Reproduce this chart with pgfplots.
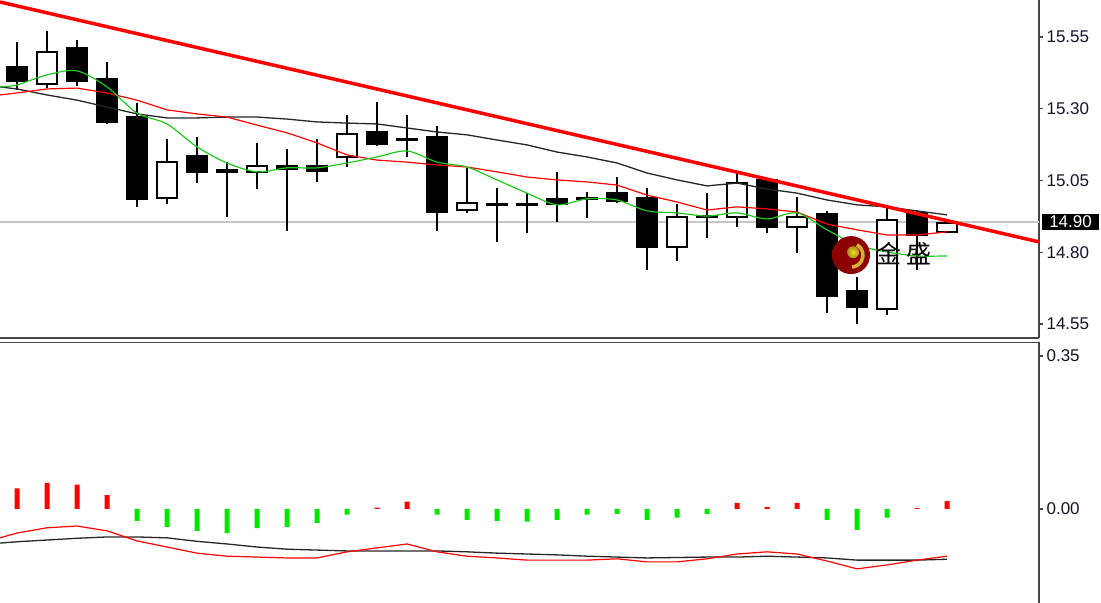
\documentclass[border=0pt]{standalone}
\usepackage{pgfplots}
\pgfplotsset{compat=1.18}
\usepackage{fontspec}
\setmainfont{Liberation Sans}
\newfontfamily\cjk{Noto Sans CJK SC}

\definecolor{maGreen}{RGB}{30,200,30}
\definecolor{histGreen}{RGB}{0,230,0}
\definecolor{axisGrey}{RGB}{70,70,70}
\definecolor{labelInk}{RGB}{20,20,40}
\definecolor{gold}{RGB}{215,175,50}

\pgfplotsset{
  bull/.style={draw=black, fill=white, line width=1.5bp},
  bear/.style={draw=black, fill=black, line width=1.5bp},
  panel/.style={
    scale only axis, width=1039bp,
    xmin=-0.567, xmax=34.067,
    axis y line*=right,
    axis line style={axisGrey, line width=1.5bp},
    xtick=\empty,
    tick align=outside, major tick length=4bp,
    tick style={axisGrey, line width=1.2bp},
    /pgf/number format/assume math mode=true,
    yticklabel style={/pgf/number format/.cd, fixed, fixed zerofill, precision=2,
      /tikz/.cd, font=\fontsize{17bp}{17bp}\selectfont, text=labelInk},
    clip mode=individual,
  },
}
% style, position, low, body bottom, body top, high
\newcommand{\candle}[6]{%
  \addplot[black, line width=1.5bp] coordinates {(#2,#3) (#2,#6)};
  \pgfmathsetmacro\xl{#2-0.33}\pgfmathsetmacro\xr{#2+0.33}%
  \edef\body{\noexpand\addplot[#1] coordinates
    {(\xl,#4) (\xr,#4) (\xr,#5) (\xl,#5)} -- cycle;}%
  \body}

\begin{document}
\begin{tikzpicture}
\path[use as bounding box] (0,0) rectangle (1101bp,603bp);

% price panel
\begin{axis}[panel,
  at={(0,603bp)}, anchor=north west, height=338bp,
  ymin=14.501, ymax=15.679,
  axis x line*=bottom,
  ytick={14.55,14.80,15.05,15.30,15.55},
]
\addplot[gray!45, line width=1.3bp] coordinates {(-1,14.905) (35,14.905)};

\candle{bear}{0}{15.365}{15.397}{15.445}{15.533}
\candle{bull}{1}{15.372}{15.386}{15.498}{15.571}
\candle{bear}{2}{15.379}{15.397}{15.512}{15.540}
\candle{bear}{3}{15.247}{15.254}{15.404}{15.463}
\candle{bear}{4}{14.958}{14.986}{15.271}{15.320}
\candle{bull}{5}{14.968}{14.989}{15.114}{15.195}
\candle{bear}{6}{15.041}{15.080}{15.135}{15.202}
\candle{bear}{7}{14.923}{15.080}{15.087}{15.114}
\candle{bull}{8}{15.020}{15.080}{15.101}{15.181}
\candle{bear}{9}{14.874}{15.090}{15.101}{15.160}
\candle{bear}{10}{15.045}{15.083}{15.101}{15.195}
\candle{bull}{11}{15.097}{15.132}{15.212}{15.278}
\candle{bear}{12}{15.170}{15.177}{15.219}{15.324}
\candle{bear}{13}{15.132}{15.191}{15.195}{15.278}
\candle{bear}{14}{14.874}{14.940}{15.202}{15.240}
\candle{bull}{15}{14.937}{14.947}{14.972}{15.094}
\candle{bear}{16}{14.836}{14.965}{14.968}{15.024}
\candle{bear}{17}{14.867}{14.965}{14.968}{15.006}
\candle{bear}{18}{14.905}{14.968}{14.986}{15.080}
\candle{bear}{19}{14.919}{14.986}{14.989}{15.010}
\candle{bear}{20}{14.972}{14.979}{15.006}{15.062}
\candle{bear}{21}{14.738}{14.818}{14.989}{15.024}
\candle{bull}{22}{14.770}{14.818}{14.923}{14.968}
\candle{bear}{23}{14.850}{14.923}{14.926}{15.006}
\candle{bull}{24}{14.888}{14.923}{15.041}{15.076}
\candle{bear}{25}{14.867}{14.888}{15.052}{15.059}
\candle{bull}{26}{14.797}{14.888}{14.923}{14.993}
\candle{bear}{27}{14.588}{14.648}{14.933}{14.944}
\candle{bear}{28}{14.550}{14.609}{14.665}{14.714}
\candle{bull}{29}{14.581}{14.602}{14.912}{14.954}
\candle{bear}{30}{14.738}{14.860}{14.937}{14.947}
\candle{bull}{31}{14.871}{14.871}{14.902}{14.905}

% slow MA
\addplot[black!85, line width=1.3bp] coordinates {
  (-0.567,15.376) (0,15.369) (1,15.348) (2,15.330) (3,15.306) (4,15.282)
  (5,15.268) (6,15.268) (7,15.271) (8,15.271) (9,15.264) (10,15.254)
  (11,15.250) (12,15.247) (13,15.233) (14,15.219) (15,15.209) (16,15.191)
  (17,15.174) (18,15.149) (19,15.132) (20,15.111) (21,15.076) (22,15.052)
  (23,15.031) (24,15.041) (25,15.020) (26,15.006) (27,14.982) (28,14.965)
  (29,14.958) (30,14.944) (31,14.930)};
% middle MA
\addplot[red, line width=1.2bp] coordinates {
  (-0.567,15.348) (0,15.355) (1,15.369) (2,15.372) (3,15.355) (4,15.330)
  (5,15.296) (6,15.282) (7,15.271) (8,15.243) (9,15.216) (10,15.181)
  (11,15.139) (12,15.121) (13,15.114) (14,15.104) (15,15.097) (16,15.080)
  (17,15.062) (18,15.052) (19,15.045) (20,15.034) (21,14.999) (22,14.975)
  (23,14.947) (24,14.958) (25,14.951) (26,14.940) (27,14.898) (28,14.878)
  (29,14.860) (30,14.860) (31,14.871)};
% fast MA
\addplot[maGreen, line width=1.2bp, smooth] coordinates {
  (-0.567,15.376) (0,15.383) (1,15.418) (2,15.432) (3,15.376) (4,15.285)
  (5,15.247) (6,15.167) (7,15.111) (8,15.080) (9,15.094) (10,15.094)
  (11,15.111) (12,15.132) (13,15.153) (14,15.114) (15,15.097) (16,15.052)
  (17,15.006) (18,14.965) (19,14.986) (20,14.982) (21,14.944) (22,14.937)
  (23,14.926) (24,14.937) (25,14.916) (26,14.937) (27,14.878) (28,14.825)
  (29,14.801) (30,14.787) (31,14.787)};
% trend line
\addplot[red, line width=3.5bp] coordinates {(-0.567,15.672) (34.067,14.836)};

% watermark
\shade[inner color=red!75!white, outer color=red!55!black]
  (axis cs:27.8,14.790) circle[radius=19bp];
\draw[gold, line width=3.5bp] (axis cs:27.8,14.790) ++(60:12bp)
  arc[start angle=60, end angle=-85, radius=12bp];
\shade[inner color=yellow!60!gold, outer color=gold!80!black]
  (axis cs:27.87,14.800) circle[radius=6bp];
\node[anchor=west, inner sep=0pt, font=\cjk\fontsize{25bp}{25bp}\selectfont]
  at (axis cs:28.65,14.794) {金\hspace{5bp}盛};

\node[anchor=west, fill=black, text=white, inner xsep=7bp, inner ysep=1.8bp,
  xshift=3bp, font=\fontsize{17bp}{17bp}\selectfont]
  at (axis cs:34.067,14.905) {14.90};
\end{axis}

% MACD panel
\begin{axis}[panel,
  at={(0,260.5bp)}, anchor=north west, height=260.5bp,
  ymin=-0.2151, ymax=0.381,
  axis x line*=top,
  ytick={0,0.35},
]
\addplot[ybar, bar width=5bp, bar shift=0pt, fill=red, draw=none] coordinates {
  (0,0.047) (1,0.060) (2,0.056) (3,0.032) (12,0.003) (13,0.017)
  (24,0.014) (25,0.005) (26,0.014) (30,0.002) (31,0.018)};
\addplot[ybar, bar width=5bp, bar shift=0pt, fill=histGreen, draw=none] coordinates {
  (4,-0.027) (5,-0.041) (6,-0.050) (7,-0.055) (8,-0.044) (9,-0.041)
  (10,-0.032) (11,-0.013) (14,-0.013) (15,-0.025) (16,-0.027) (17,-0.029)
  (18,-0.025) (19,-0.013) (20,-0.011) (21,-0.025) (22,-0.020) (23,-0.011)
  (27,-0.025) (28,-0.048) (29,-0.020)};
\addplot[black!85, line width=1.3bp] coordinates {
  (-0.567,-0.078) (0,-0.075) (1,-0.071) (2,-0.067) (3,-0.064) (4,-0.064)
  (5,-0.066) (6,-0.074) (7,-0.080) (8,-0.087) (9,-0.092) (10,-0.094)
  (11,-0.096) (12,-0.096) (13,-0.096) (14,-0.096) (15,-0.098) (16,-0.101)
  (17,-0.103) (18,-0.105) (19,-0.108) (20,-0.110) (21,-0.112) (22,-0.111)
  (23,-0.110) (24,-0.110) (25,-0.108) (26,-0.110) (27,-0.112) (28,-0.117)
  (29,-0.117) (30,-0.117) (31,-0.115)};
\addplot[red, line width=1.2bp] coordinates {
  (-0.567,-0.066) (0,-0.055) (1,-0.043) (2,-0.039) (3,-0.050) (4,-0.073)
  (5,-0.087) (6,-0.101) (7,-0.108) (8,-0.110) (9,-0.112) (10,-0.112)
  (11,-0.098) (12,-0.089) (13,-0.080) (14,-0.098) (15,-0.108) (16,-0.112)
  (17,-0.117) (18,-0.117) (19,-0.117) (20,-0.114) (21,-0.121) (22,-0.121)
  (23,-0.114) (24,-0.103) (25,-0.098) (26,-0.103) (27,-0.119) (28,-0.137)
  (29,-0.128) (30,-0.117) (31,-0.108)};
\end{axis}
\end{tikzpicture}
\end{document}
